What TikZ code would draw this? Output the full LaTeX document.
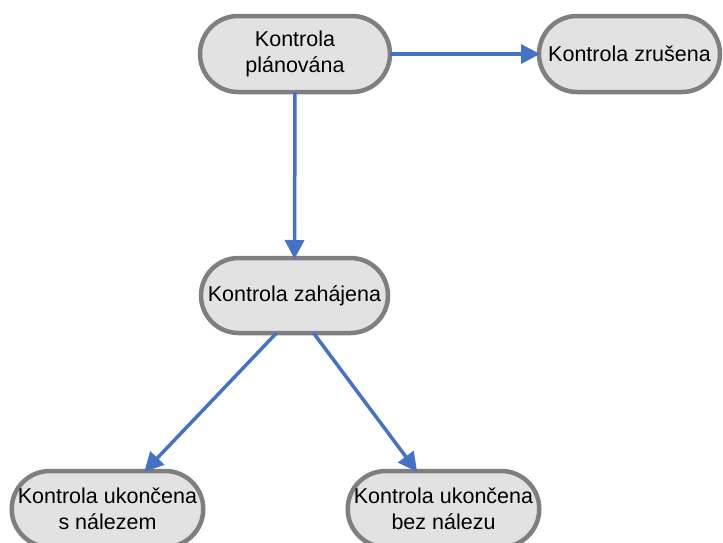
\documentclass[tikz,border=0pt]{standalone}
\usepackage{fontspec}
\setmainfont{Liberation Sans}
\usetikzlibrary{arrows.meta,shapes.misc}
\definecolor{stateborder}{HTML}{7F7F7F}
\definecolor{statefill}{HTML}{E2E2E2}
\definecolor{flowblue}{HTML}{4472C4}
\begin{document}
\begin{tikzpicture}[x=1pt,y=-1pt,
  state/.style={rounded rectangle, rounded rectangle arc length=180,
    draw=stateborder, fill=statefill, line width=4.5pt,
    inner sep=0pt, outer sep=0pt, align=center,
    minimum height=76pt,
    font=\fontsize{21.5}{25.5}\selectfont},
  flow/.style={draw=flowblue, line width=3.5pt,
    -{Triangle[length=19pt,width=19pt]}, shorten >=-1pt}]
  \useasboundingbox (0,0) rectangle (723,542);

  % states
  \node[state, minimum width=190pt] (plan) at (295,54) {Kontrola\\plánována};
  \node[state, minimum width=181pt] (zrus) at (629.5,54) {Kontrola zrušena};
  \node[state, minimum width=187pt, minimum height=75pt] (zah) at (294.5,295.5) {Kontrola zahájena};
  \node[state, minimum width=189pt] (snal) at (107.5,509) {Kontrola ukončena\\s nálezem};
  \node[state, minimum width=183pt] (bnal) at (443.5,509) {Kontrola ukončena\\bez nálezu};

  % transitions
  \draw[flow] (plan.east) -- (zrus.west);
  \draw[flow] (plan.south) -- (zah.north);
  \draw[flow] ([xshift=-18pt]zah.south) -- ([xshift=37.5pt]snal.north);
  \draw[flow] ([xshift=19pt]zah.south) -- ([xshift=-27pt]bnal.north);
\end{tikzpicture}
\end{document}
